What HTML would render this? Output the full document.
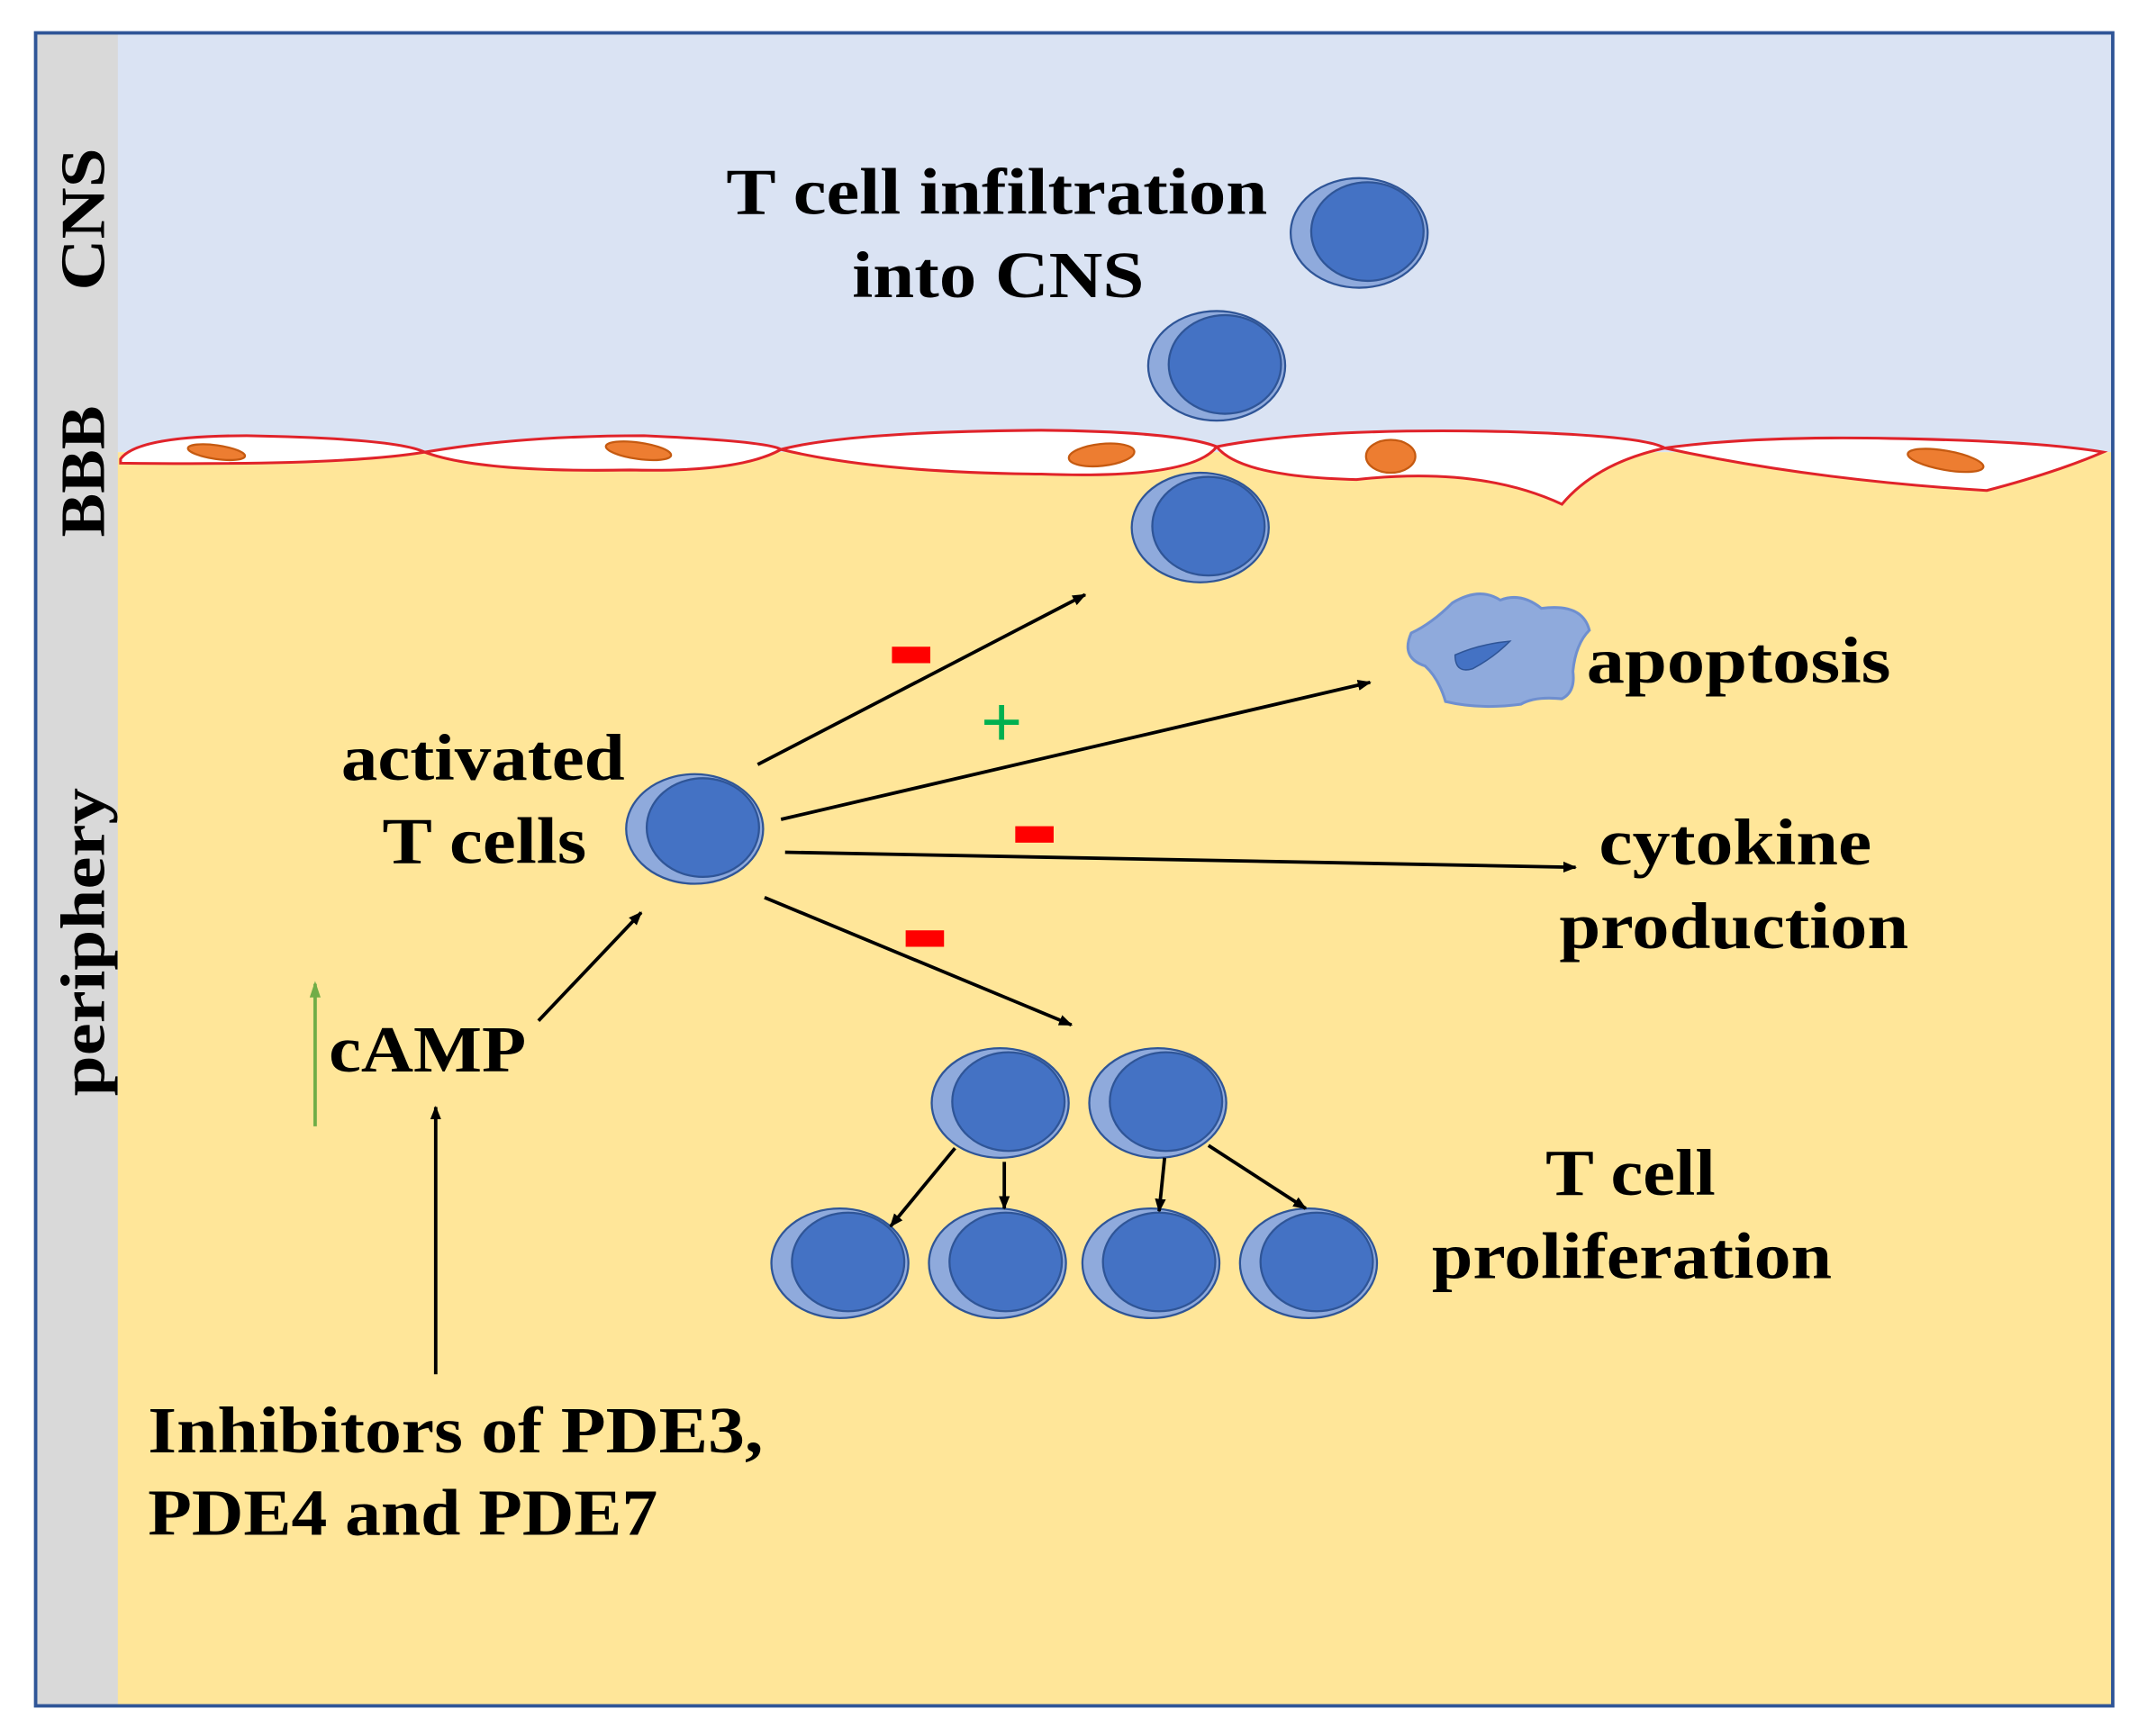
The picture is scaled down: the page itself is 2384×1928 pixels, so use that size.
<!DOCTYPE html>
<html><head><meta charset="utf-8"><style>
html,body{margin:0;padding:0;background:#fff;}
svg{display:block;}
text{font-family:"Liberation Serif",serif;font-weight:bold;fill:#000;}
</style></head><body>
<svg width="2384" height="1928" viewBox="0 0 1567 1267" preserveAspectRatio="none" xmlns="http://www.w3.org/2000/svg">
<defs>
<marker id="ah" markerWidth="10" markerHeight="8" refX="9" refY="4" orient="auto" markerUnits="userSpaceOnUse"><path d="M0,0 L10,4 L0,8 z" fill="#000"/></marker>
<marker id="ahg" markerWidth="8" markerHeight="10" refX="4" refY="1" orient="auto" markerUnits="userSpaceOnUse"><path d="M0,0 L8,4 L0,8 z" fill="#70ad47"/></marker>
<g id="cell">
<ellipse cx="0" cy="0" rx="50" ry="40" fill="#8faadc" stroke="#2f5597" stroke-width="1.5"/>
<ellipse cx="6" cy="-1" rx="41" ry="36" fill="#4472c4" stroke="#2f5597" stroke-width="1.5"/>
</g>
</defs>
<rect x="0" y="0" width="1567" height="1267" fill="#fff"/>
<rect x="26" y="24" width="1516" height="306" fill="#dae3f3"/>
<rect x="26" y="330" width="1516" height="915" fill="#ffe699"/>
<rect x="26" y="24" width="60" height="1221" fill="#d9d9d9"/>
<rect x="26" y="24" width="1516" height="1221" fill="none" stroke="#2f5597" stroke-width="2.5"/>
<text transform="translate(76,212) rotate(-90)" font-size="46" textLength="104" lengthAdjust="spacingAndGlyphs">CNS</text>
<text transform="translate(76,392) rotate(-90)" font-size="46" textLength="96" lengthAdjust="spacingAndGlyphs">BBB</text>
<text transform="translate(76,800) rotate(-90)" font-size="46" textLength="225" lengthAdjust="spacingAndGlyphs">periphery</text>
<g fill="#fff" stroke="#e0232a" stroke-width="2">
<path d="M88,335 Q100,318 180,318 Q290,320 310,330 Q250,340 88,338 z"/>
<path d="M310,330 Q380,318 470,318 Q560,322 570,328 Q540,345 460,343 Q350,345 310,330 z"/>
<path d="M570,328 Q620,315 760,314 Q860,315 888,326 Q870,350 760,346 Q640,345 570,328 z"/>
<path d="M888,326 Q960,312 1100,315 Q1200,318 1215,327 Q1165,338 1140,368 Q1080,340 990,350 Q905,348 888,326 z"/>
<path d="M1215,327 Q1280,318 1380,320 Q1490,322 1535,330 Q1500,345 1450,358 Q1320,350 1215,327 z"/>
</g>
<g fill="#ed7d31" stroke="#c55a11" stroke-width="1.5">
<ellipse cx="158" cy="330" rx="21" ry="5" transform="rotate(8 158 330)"/>
<ellipse cx="466" cy="329" rx="24" ry="6" transform="rotate(8 466 329)"/>
<ellipse cx="804" cy="332" rx="24" ry="8" transform="rotate(-6 804 332)"/>
<ellipse cx="1015" cy="333" rx="18" ry="12"/>
<ellipse cx="1420" cy="336" rx="28" ry="7" transform="rotate(10 1420 336)"/>
</g>
<use href="#cell" x="992" y="170"/>
<use href="#cell" x="888" y="267"/>
<use href="#cell" x="876" y="385"/>
<use href="#cell" x="507" y="605"/>
<use href="#cell" x="730" y="805"/>
<use href="#cell" x="845" y="805"/>
<use href="#cell" x="613" y="922"/>
<use href="#cell" x="728" y="922"/>
<use href="#cell" x="840" y="922"/>
<use href="#cell" x="955" y="922"/>
<path d="M1030,462 Q1045,455 1060,440 Q1080,428 1095,438 Q1110,432 1125,444 Q1155,440 1160,460 Q1150,470 1148,490 Q1150,505 1140,510 Q1120,508 1110,514 Q1080,518 1055,512 Q1050,495 1040,486 Q1022,480 1030,462 z" fill="#8faadc" stroke="#6f8fcf" stroke-width="2"/>
<path d="M1062,478 Q1080,470 1102,468 Q1090,480 1075,488 Q1062,492 1062,478 z" fill="#4472c4" stroke="#2f5597" stroke-width="1"/>
<g stroke="#000" stroke-width="2.5" fill="none" marker-end="url(#ah)">
<line x1="553" y1="558" x2="792" y2="434"/>
<line x1="570" y1="598" x2="1000" y2="498"/>
<line x1="573" y1="622" x2="1150" y2="633"/>
<line x1="558" y1="655" x2="782" y2="748"/>
<line x1="393" y1="745" x2="468" y2="666"/>
<line x1="318" y1="1003" x2="318" y2="808"/>
<line x1="697" y1="838" x2="650" y2="895"/>
<line x1="733" y1="848" x2="733" y2="882"/>
<line x1="850" y1="845" x2="846" y2="884"/>
<line x1="882" y1="836" x2="953" y2="882"/>
</g>
<line x1="230" y1="822" x2="230" y2="718" stroke="#70ad47" stroke-width="2.5"/>
<path d="M226,728 L230,716 L234,728 z" fill="#70ad47"/>
<rect x="651" y="472" width="28" height="12" fill="#ff0000"/>
<rect x="741" y="603" width="28" height="12" fill="#ff0000"/>
<rect x="661" y="679" width="28" height="12" fill="#ff0000"/>
<text x="731" y="545" font-size="54" text-anchor="middle" style="fill:#00b050">+</text>
<g font-size="48" lengthAdjust="spacingAndGlyphs">
<text x="530" y="156" textLength="395" lengthAdjust="spacingAndGlyphs">T cell infiltration</text>
<text x="622" y="217" textLength="213" lengthAdjust="spacingAndGlyphs">into CNS</text>
<text x="1158" y="498" textLength="222" lengthAdjust="spacingAndGlyphs">apoptosis</text>
<text x="249" y="569" textLength="207" lengthAdjust="spacingAndGlyphs">activated</text>
<text x="279" y="630" textLength="149" lengthAdjust="spacingAndGlyphs">T cells</text>
<text x="1167" y="631" textLength="199" lengthAdjust="spacingAndGlyphs">cytokine</text>
<text x="1138" y="692" textLength="255" lengthAdjust="spacingAndGlyphs">production</text>
<text x="240" y="782" textLength="144" lengthAdjust="spacingAndGlyphs">cAMP</text>
<text x="1128" y="872" textLength="124" lengthAdjust="spacingAndGlyphs">T cell</text>
<text x="1045" y="933" textLength="292" lengthAdjust="spacingAndGlyphs">proliferation</text>
<text x="108" y="1060" textLength="449" lengthAdjust="spacingAndGlyphs">Inhibitors of PDE3,</text>
<text x="108" y="1120" textLength="372" lengthAdjust="spacingAndGlyphs">PDE4 and PDE7</text>
</g>
</svg>
</body></html>
